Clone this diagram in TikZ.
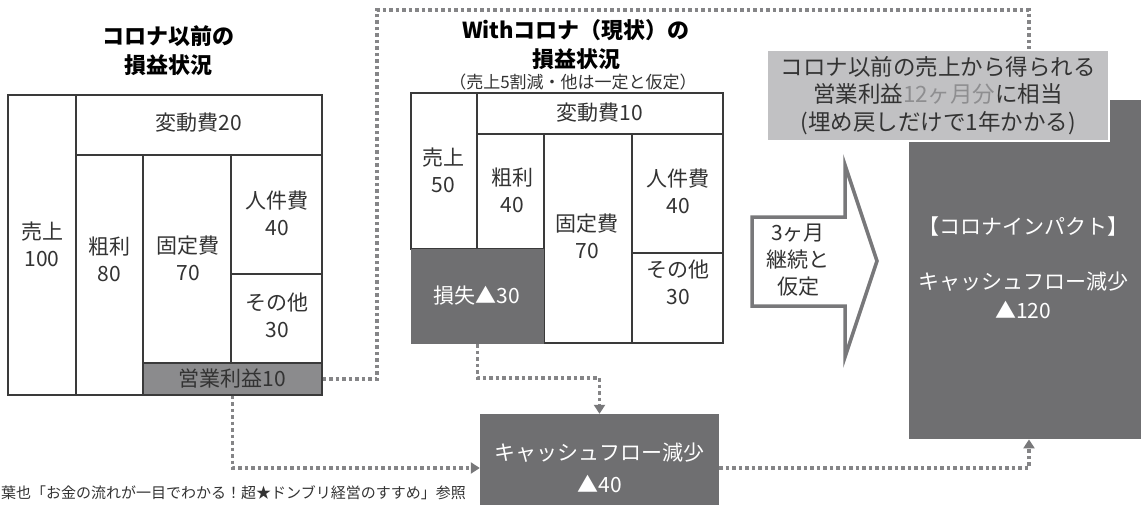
\documentclass[tikz,border=0pt]{standalone}
\usepackage{fontspec}
\setmainfont{Noto Sans CJK JP}
\usetikzlibrary{arrows.meta}
\definecolor{linec}{HTML}{3A3A3A}
\definecolor{txt}{HTML}{333333}
\definecolor{darkbox}{HTML}{6F6F71}
\definecolor{midbox}{HTML}{8B8B8D}
\definecolor{lightbox}{HTML}{C1C1C3}
\definecolor{dotc}{HTML}{858587}
\definecolor{arrc}{HTML}{78787A}
\definecolor{hilite}{HTML}{8E8E90}
\tikzset{
  cell/.style={draw=linec, line width=1.3pt, fill=white},
  lbl/.style={font=\fontsize{21}{27}\selectfont, align=center, text=txt, inner sep=0pt},
  wlbl/.style={font=\fontsize{21}{29}\selectfont, align=center, text=white, inner sep=0pt},
  ttl/.style={font=\fontsize{22}{29}\selectfont\bfseries, align=center, text=black, inner sep=0pt},
  dots/.style={draw=dotc, line width=3.5pt, dash pattern=on 3.5pt off 3pt},
  tip/.style={-{Triangle[width=11pt,length=9pt,color=arrc]}},
}
\begin{document}
\begin{tikzpicture}[x=1pt,y=-1pt]
\useasboundingbox (0,0) rectangle (1141,504);

% ---------- left table ----------
\node[ttl] (t1) at (168,51) {コロナ以前の\\損益状況};
\draw[cell] (8,95) rectangle (76,395);
\draw[cell] (76,95) rectangle (322,155);
\draw[cell] (76,155) rectangle (143,395);
\draw[cell] (143,155) rectangle (231,363);
\draw[cell] (231,155) rectangle (322,274);
\draw[cell] (231,274) rectangle (322,363);
\node[draw=linec, line width=1.3pt, fill=midbox, minimum width=179pt, minimum height=32pt, inner sep=0pt,
      font=\fontsize{21}{27}\selectfont, text=txt] (eigyo) at (232.5,379) {営業利益10};
\node[lbl] (h1) at (199,123) {変動費20};
\node[lbl] (u1) at (42,244) {売上\\100};
\node[lbl] (a1) at (109,259) {粗利\\80};
\node[lbl] (k1) at (188,258) {固定費\\70};
\node[lbl] (j1) at (277,213) {人件費\\40};
\node[lbl] (s1) at (277,315) {その他\\30};

% ---------- middle table ----------
\node[ttl] (t2) at (576,45) {Withコロナ（現状）の\\損益状況};
\node[font=\fontsize{17}{20}\selectfont, text=txt, inner sep=0pt] (t2s) at (573,82) {（売上5割減・他は一定と仮定）};
\draw[cell] (411,93) rectangle (477,249);
\draw[cell] (477,93) rectangle (723,134);
\draw[cell] (477,134) rectangle (544,249);
\draw[cell] (544,134) rectangle (632,343);
\draw[cell] (632,134) rectangle (723,253);
\draw[cell] (632,253) rectangle (723,343);
\node[fill=darkbox, minimum width=133pt, minimum height=95pt, inner sep=0pt] (loss) at (477.5,296.5) {};
\node[wlbl] (lossl) at (477,296) {損失▲30};
\node[lbl] (h2) at (600,113) {変動費10};
\node[lbl] (u2) at (443,170) {売上\\50};
\node[lbl] (a2) at (512,190) {粗利\\40};
\node[lbl] (k2) at (587,236) {固定費\\70};
\node[lbl] (j2) at (678,191) {人件費\\40};
\node[lbl] (s2) at (678,282) {その他\\30};

% ---------- block arrow ----------
\draw[draw=arrc, line width=3.5pt, fill=white, line join=miter]
  (752,217) -- (845,217) -- (845,165) -- (877,261) -- (845,357) -- (845,306) -- (752,306) -- cycle;
\node[lbl] (arrl) at (798,260) {3ヶ月\\継続と\\仮定};

% ---------- big impact box ----------
\node[fill=darkbox, minimum width=250pt, minimum height=339pt, inner sep=0pt, anchor=north west] (big) at (909,100) {};
\node[wlbl] (bigt) at (1023,227) {【コロナインパクト】};
\node[wlbl] (bigv) at (1023,295) {キャッシュフロー減少\\▲120};
\coordinate (tx) at (1029,0);

% ---------- label box ----------
\node[fill=lightbox, draw=white, line width=1.5pt, minimum width=342pt, minimum height=91pt, inner sep=0pt,
      font=\fontsize{22.5}{27.5}\selectfont, text=txt, align=center] (lab) at (938,95.5)
  {コロナ以前の売上から得られる\\営業利益{\color{hilite}12ヶ月分}に相当\\(埋め戻しだけで1年かかる)};

% ---------- cash flow box ----------
\node[fill=darkbox, minimum width=239pt, minimum height=108pt, inner sep=0pt,
      font=\fontsize{21}{32}\selectfont, text=white, align=center] (cf) at (599.5,468)
  {キャッシュフロー減少\\▲40};

% ---------- dotted connectors ----------
\coordinate (up) at (377,10);
\draw[dots] (eigyo.east) -| (up) -| (lab.north -| tx);
\draw[dots,tip] (eigyo.south) |- (cf.west);
\draw[dots,tip] (loss.south) -- ++(0,34) -| (cf.north);
\draw[dots,tip] (cf.east) -| (big.south -| tx);

% ---------- footer ----------
\node[font=\fontsize{15}{18}\selectfont, text=txt, anchor=west, inner sep=0pt] (src) at (1,493)
  {葉也「お金の流れが一目でわかる！超★ドンブリ経営のすすめ」参照};
\end{tikzpicture}
\end{document}
